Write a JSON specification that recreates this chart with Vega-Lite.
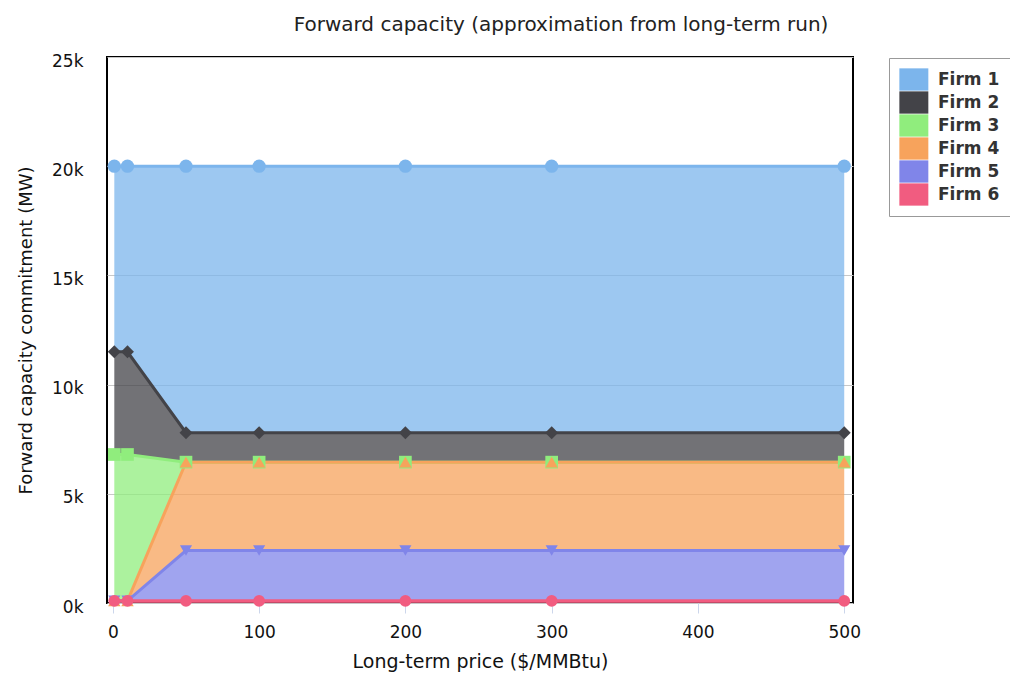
{
  "$schema": "https://vega.github.io/schema/vega-lite/v6.json",
  "width": 746,
  "height": 546,
  "autosize": {"type": "none"},
  "padding": {"left": 107, "top": 57, "right": 157, "bottom": 72},
  "background": "white",
  "title": {
    "text": "Forward capacity (approximation from long-term run)",
    "font": "DejaVu Sans",
    "fontSize": 20,
    "fontWeight": "normal",
    "color": "#222",
    "anchor": "middle",
    "frame": "group",
    "dx": 81,
    "offset": 17
  },
  "config": {
    "view": {"stroke": "black", "strokeWidth": 2},
    "font": "DejaVu Sans"
  },
  "data": {
    "values": [
      {"x": 1, "firm": "Firm 1", "v": 8500},
      {"x": 1, "firm": "Firm 2", "v": 4700},
      {"x": 1, "firm": "Firm 3", "v": 6700},
      {"x": 1, "firm": "Firm 4", "v": 0},
      {"x": 1, "firm": "Firm 5", "v": 0},
      {"x": 1, "firm": "Firm 6", "v": 100},
      {"x": 10, "firm": "Firm 1", "v": 8500},
      {"x": 10, "firm": "Firm 2", "v": 4700},
      {"x": 10, "firm": "Firm 3", "v": 6700},
      {"x": 10, "firm": "Firm 4", "v": 0},
      {"x": 10, "firm": "Firm 5", "v": 0},
      {"x": 10, "firm": "Firm 6", "v": 100},
      {"x": 50, "firm": "Firm 1", "v": 12200},
      {"x": 50, "firm": "Firm 2", "v": 1350},
      {"x": 50, "firm": "Firm 3", "v": 0},
      {"x": 50, "firm": "Firm 4", "v": 4050},
      {"x": 50, "firm": "Firm 5", "v": 2300},
      {"x": 50, "firm": "Firm 6", "v": 100},
      {"x": 100, "firm": "Firm 1", "v": 12200},
      {"x": 100, "firm": "Firm 2", "v": 1350},
      {"x": 100, "firm": "Firm 3", "v": 0},
      {"x": 100, "firm": "Firm 4", "v": 4050},
      {"x": 100, "firm": "Firm 5", "v": 2300},
      {"x": 100, "firm": "Firm 6", "v": 100},
      {"x": 200, "firm": "Firm 1", "v": 12200},
      {"x": 200, "firm": "Firm 2", "v": 1350},
      {"x": 200, "firm": "Firm 3", "v": 0},
      {"x": 200, "firm": "Firm 4", "v": 4050},
      {"x": 200, "firm": "Firm 5", "v": 2300},
      {"x": 200, "firm": "Firm 6", "v": 100},
      {"x": 300, "firm": "Firm 1", "v": 12200},
      {"x": 300, "firm": "Firm 2", "v": 1350},
      {"x": 300, "firm": "Firm 3", "v": 0},
      {"x": 300, "firm": "Firm 4", "v": 4050},
      {"x": 300, "firm": "Firm 5", "v": 2300},
      {"x": 300, "firm": "Firm 6", "v": 100},
      {"x": 500, "firm": "Firm 1", "v": 12200},
      {"x": 500, "firm": "Firm 2", "v": 1350},
      {"x": 500, "firm": "Firm 3", "v": 0},
      {"x": 500, "firm": "Firm 4", "v": 4050},
      {"x": 500, "firm": "Firm 5", "v": 2300},
      {"x": 500, "firm": "Firm 6", "v": 100}
    ]
  },
  "transform": [
    {"stack": "v", "groupby": ["x"], "sort": [{"field": "firm", "order": "descending"}], "as": ["y0", "y1"]}
  ],
  "encoding": {
    "x": {
      "field": "x",
      "type": "quantitative",
      "scale": {"domain": [-4, 506], "nice": false, "zero": false},
      "axis": {
        "title": "Long-term price ($/MMBtu)",
        "values": [0, 100, 200, 300, 400, 500],
        "grid": false,
        "domain": false,
        "ticks": true,
        "tickColor": "#ccd6eb",
        "tickSize": 10,
        "tickWidth": 1,
        "labelFontSize": 17,
        "labelColor": "#111",
        "labelPadding": 11,
        "titleFontSize": 19,
        "titleFontWeight": "normal",
        "titleColor": "#111",
        "titlePadding": 12
      }
    }
  },
  "resolve": {
    "scale": {"shape": "independent", "size": "independent"},
    "legend": {"shape": "independent", "size": "independent"}
  },
  "layer": [
    {
      "mark": {"type": "area", "fillOpacity": 0.75, "interpolate": "linear"},
      "encoding": {
        "y": {
          "field": "y1",
          "type": "quantitative",
          "scale": {"domain": [0, 25000], "nice": false},
          "axis": {
            "title": "Forward capacity commitment (MW)",
            "values": [0, 5000, 10000, 15000, 20000, 25000],
            "labelExpr": "datum.value / 1000 + 'k'",
            "grid": true,
            "gridColor": "#c8c8c8",
            "gridWidth": 1,
            "domain": false,
            "ticks": false,
            "labelFontSize": 17,
            "labelColor": "#111",
            "labelPadding": 24,
            "labelOffset": 4,
            "titleFontSize": 18,
            "titleFontWeight": "normal",
            "titleColor": "#111",
            "titlePadding": 16
          }
        },
        "y2": {"field": "y0"},
        "color": {
          "field": "firm",
          "type": "nominal",
          "scale": {
            "domain": ["Firm 1", "Firm 2", "Firm 3", "Firm 4", "Firm 5", "Firm 6"],
            "range": ["#7cb5ec", "#434348", "#90ed7d", "#f7a35c", "#8085e9", "#f15c80"]
          },
          "legend": {
            "title": null,
            "orient": "none",
            "legendX": 782,
            "legendY": 1,
            "symbolType": "M-1,-1H1.6V1H-1Z",
            "symbolSize": 497,
            "symbolOpacity": 1,
            "symbolStrokeWidth": 0,
            "labelFontSize": 17,
            "labelFontWeight": "bold",
            "labelColor": "#333",
            "labelOffset": 16,
            "rowPadding": 0,
            "padding": 10,
            "strokeColor": "#999",
            "fillColor": "white"
          }
        }
      }
    },
    {
      "mark": {"type": "line", "strokeWidth": 3, "interpolate": "linear"},
      "encoding": {
        "y": {"field": "y1", "type": "quantitative"},
        "color": {"field": "firm", "type": "nominal", "legend": null}
      }
    },
    {
      "mark": {"type": "point", "filled": true, "opacity": 1},
      "encoding": {
        "y": {"field": "y1", "type": "quantitative"},
        "color": {"field": "firm", "type": "nominal", "legend": null},
        "shape": {
          "field": "firm",
          "type": "nominal",
          "scale": {
            "domain": ["Firm 1", "Firm 2", "Firm 3", "Firm 4", "Firm 5", "Firm 6"],
            "range": ["circle", "diamond", "square", "triangle-up", "triangle-down", "circle"]
          },
          "legend": null
        },
        "size": {
          "field": "firm",
          "type": "ordinal",
          "scale": {
            "domain": ["Firm 1", "Firm 2", "Firm 3", "Firm 4", "Firm 5", "Firm 6"],
            "range": [175, 140, 210, 200, 200, 175]
          },
          "legend": null
        },
        "order": {"field": "firm", "sort": "ascending"}
      }
    }
  ]
}
